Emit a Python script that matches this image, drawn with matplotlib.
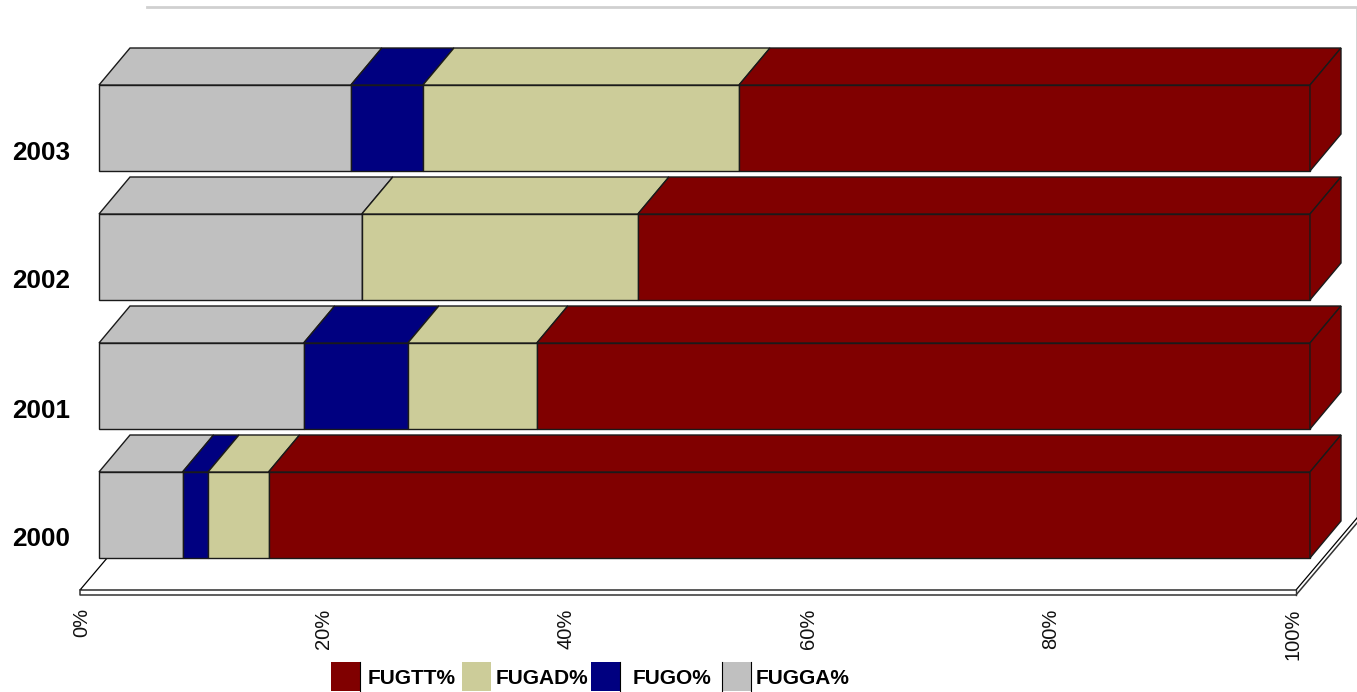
import numpy as np
import matplotlib
matplotlib.use("Agg")
import matplotlib.pyplot as plt
from matplotlib.patches import Polygon, Rectangle
from matplotlib.transforms import ScaledTranslation

plt.rcParams['font.family'] = ['Liberation Sans', 'DejaVu Sans']

years = ["2000", "2001", "2002", "2003"]
# stacked shares, left to right
fugga = [6.9, 16.9, 21.7, 20.8]
fugo = [2.1, 8.6, 0.0, 5.95]
fugad = [5.0, 10.65, 22.8, 26.1]
fugtt = [86.0, 63.85, 55.5, 47.15]
x_ticks = [0, 20, 40, 60, 80, 100]
x_labels = ["0%", "20%", "40%", "60%", "80%", "100%"]

series = [("FUGGA%", fugga, "#C0C0C0"),
          ("FUGO%", fugo, "#000080"),
          ("FUGAD%", fugad, "#CCCC99"),
          ("FUGTT%", fugtt, "#800000")]

W, H = 1357, 692
fig = plt.figure(figsize=(W / 100, H / 100), dpi=100)

# axes box in pixels: x 0..100 is the bar front, 129 px per category
ax = fig.add_axes([99 / W, (H - 600) / H, 1211 / W, 600 / H])
ax.set_xlim(0, 100)
ax.set_ylim(-85 / 129, 515 / 129)

bar_h = 86 / 129
dx = 31 / 12.11   # depth of the fake 3D, data units
dy = 37 / 129
y_pos = np.arange(len(years))
edge = "#1a1a1a"

# floor plate and back wall, back edge of the floor is not drawn
fx0, fx1 = -19 / 12.11, 100 - 14 / 12.11
fy = -75 / 129
fy2 = -80 / 129
fdx, fdy = 61 / 12.11, 72 / 129
ax.add_patch(Polygon([(fx0, fy), (fx1, fy), (fx1 + fdx, fy + fdy), (fx0 + fdx, fy + fdy)],
                     fc="white", ec="none", clip_on=False, zorder=1))
ax.plot([fx0 + fdx, fx0, fx1, fx1 + fdx], [fy + fdy, fy, fy, fy + fdy],
        color="black", lw=0.9, clip_on=False, zorder=1)
ax.plot([fx0, fx0, fx1, fx1 + fdx], [fy, fy2, fy2, fy2 + fdy],
        color="#333333", lw=1.1, clip_on=False, zorder=1)
ax.plot([fx1, fx1], [fy, fy2], color="#333333", lw=1.0, clip_on=False, zorder=1)
wall_top = 508 / 129
ax.plot([48 / 12.11, fx1 + fdx, fx1 + fdx], [wall_top, wall_top, fy + fdy],
        color="#D0D0D0", lw=2, clip_on=False, zorder=0, solid_joinstyle="miter")

# bars
left = np.zeros(len(years))
for name, vals, col in series:
    vals = np.array(vals)
    ax.barh(y_pos, vals, left=left, height=bar_h, color=col, edgecolor=edge, linewidth=1,
            clip_on=False, zorder=3)
    for y, l, v in zip(y_pos, left, vals):
        if v == 0:
            continue
        top = y + bar_h / 2
        ax.add_patch(Polygon([(l, top), (l + v, top), (l + v + dx, top + dy), (l + dx, top + dy)],
                             fc=col, ec=edge, lw=1, clip_on=False, zorder=3))
    left = left + vals

# right hand side of the stack
for y, l in zip(y_pos, left):
    top = y + bar_h / 2
    bot = y - bar_h / 2
    ax.add_patch(Polygon([(l, bot), (l + dx, bot + dy), (l + dx, top + dy), (l, top)],
                         fc=series[-1][2], ec=edge, lw=1, clip_on=False, zorder=3))

for s in ax.spines.values():
    s.set_visible(False)
ax.patch.set_visible(False)

ax.set_xticks(x_ticks)
ax.set_xticklabels(x_labels, rotation=90, fontsize=14.5, color="#111111", va="top", ha="center")
ax.set_yticks(y_pos)
ax.set_yticklabels(years, fontsize=18.8, fontweight="bold", color="black")
ax.tick_params(axis="x", length=0, pad=6)
ax.tick_params(axis="y", length=0, pad=21)
for lab in ax.get_xticklabels():
    lab.set_transform(lab.get_transform() + ScaledTranslation(-17.5 / 100, 0, fig.dpi_scale_trans))
for lab in ax.get_yticklabels():
    lab.set_transform(lab.get_transform() + ScaledTranslation(0, -22 / 100, fig.dpi_scale_trans))

# legend, spacing in the original is uneven so it is placed by hand
legend_items = [("FUGTT%", "#800000", 331, 368),
                ("FUGAD%", "#CCCC99", 462, 496),
                ("FUGO%", "#000080", 591, 633),
                ("FUGGA%", "#C0C0C0", 722, 756)]
for name, col, sx, tx in legend_items:
    fig.add_artist(Rectangle((sx / W, (H - 691) / H), 29 / W, 29 / H, fc=col, ec="none",
                             transform=fig.transFigure))
    if col != "#CCCC99":
        fig.add_artist(plt.Line2D([(sx + 29) / W] * 2, [(H - 691) / H, (H - 662) / H], color="black", lw=0.8))
    fig.text(tx / W, (H - 679) / H, name, fontsize=15, fontweight="bold", va="center", ha="left")
fig.add_artist(plt.Line2D([722 / W] * 2, [(H - 691) / H, (H - 662) / H], color="black", lw=0.8))

fig.savefig("out.png", dpi=100, facecolor="white")
